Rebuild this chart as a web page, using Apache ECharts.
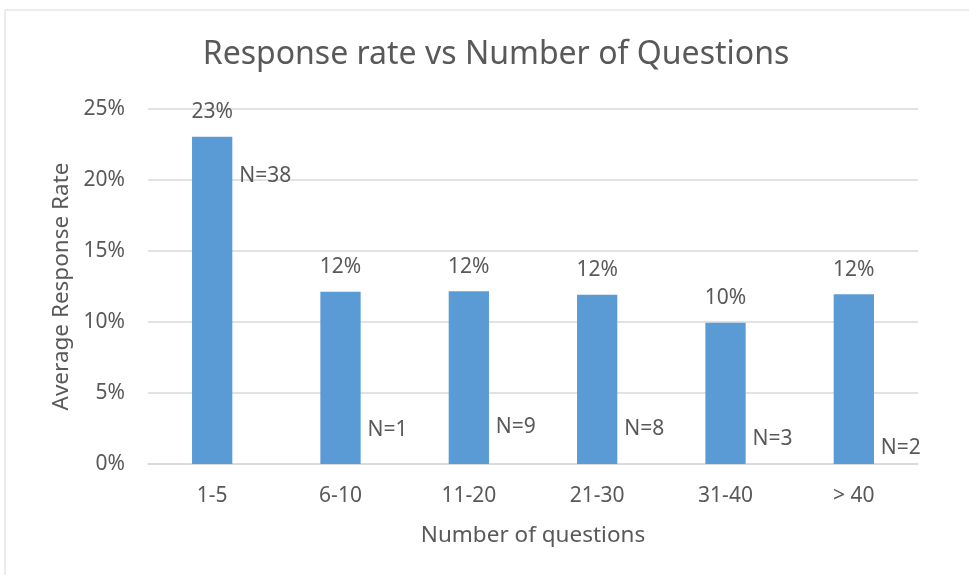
<!DOCTYPE html>
<html>
<head>
<meta charset="utf-8">
<script src="https://cdn.jsdelivr.net/npm/echarts@6/dist/echarts.min.js"></script>
<style>
  html, body { margin: 0; padding: 0; background: #fff; }
  #chart { width: 969px; height: 575px; }
</style>
</head>
<body>
<div id="chart"></div>
<script>
// data
const categories = ["1-5", "6-10", "11-20", "21-30", "31-40", "> 40"];
const responseRate = [23.05, 12.13, 12.16, 11.92, 9.95, 11.95]; // %
const sampleSize = [38, 1, 9, 8, 3, 2];
// where the N= labels sit (in % on the y axis)
const nLabelLevel = [20.3, 2.4, 2.6, 2.45, 1.75, 1.1];
const yTicks = [0, 5, 10, 15, 20, 25];

const textColor = "#595959";
const font = "Noto Sans";

const chart = echarts.init(document.getElementById("chart"));

const option = {
  animation: false,
  backgroundColor: "#fff",
  textStyle: { fontFamily: font, color: textColor },
  title: {
    text: "Response rate vs Number of Questions",
    left: 491,
    textAlign: "center",
    top: 34,
    textStyle: { fontFamily: font, fontSize: 32, fontWeight: "normal", color: textColor },
  },
  graphic: [
    {
      type: "rect",
      shape: { x: 5, y: 10, width: 1000, height: 600 },
      style: { fill: "none", stroke: "#d9d9d9", lineWidth: 1 },
      silent: true,
    },
  ],
  grid: { left: 148, right: 51, top: 109, bottom: 111 },
  xAxis: {
    type: "category",
    data: categories,
    name: "Number of questions",
    nameLocation: "middle",
    nameGap: 60,
    nameTextStyle: { fontSize: 22.5, color: textColor, fontFamily: font },
    axisLine: { lineStyle: { color: "#d9d9d9", width: 1.5 } },
    axisTick: { show: false },
    axisLabel: { fontSize: 21, color: textColor, margin: 22, fontFamily: font },
  },
  yAxis: {
    type: "value",
    min: yTicks[0],
    max: yTicks[yTicks.length - 1],
    interval: 5,
    name: "Average Response Rate",
    nameLocation: "middle",
    nameGap: 75,
    nameTextStyle: { fontSize: 22.5, color: textColor, fontFamily: font },
    axisLine: { show: false },
    axisTick: { show: false },
    axisLabel: { fontSize: 21, color: textColor, margin: 23, formatter: "{value}%", fontFamily: font },
    splitLine: { lineStyle: { color: "#d9d9d9", width: 1.5 } },
  },
  series: [
    {
      name: "Average Response Rate",
      type: "bar",
      data: responseRate,
      barWidth: "31.4%",
      itemStyle: { color: "#5b9bd5" },
      label: {
        show: true,
        position: "top",
        distance: 14,
        fontSize: 21,
        color: textColor,
        fontFamily: font,
        formatter: (p) => Math.round(p.value) + "%",
      },
    },
    {
      name: "N",
      type: "scatter",
      data: nLabelLevel.map((v, i) => [i, v]),
      symbolSize: 0,
      silent: true,
      itemStyle: { opacity: 1 },
      label: {
        show: true,
        position: "right",
        distance: 27,
        fontSize: 21,
        color: textColor,
        opacity: 1,
        fontFamily: font,
        formatter: (p) => "N=" + sampleSize[p.dataIndex],
      },
    },
  ],
};

chart.setOption(option);
</script>
</body>
</html>
